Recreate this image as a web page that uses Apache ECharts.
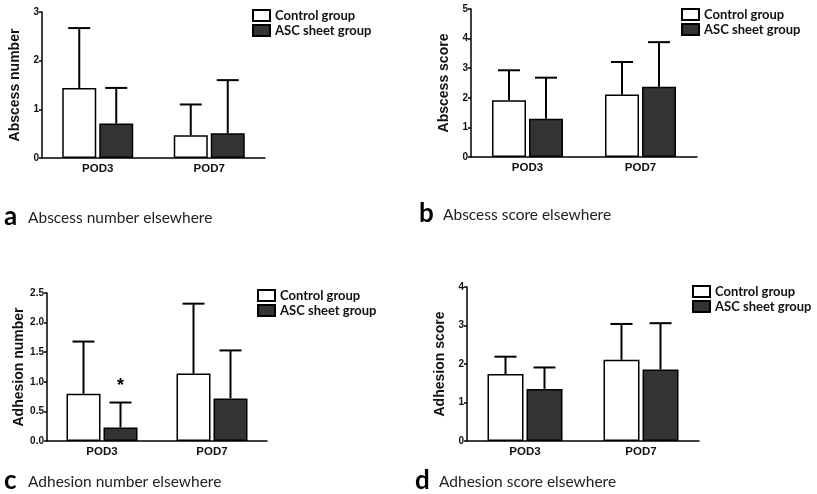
<!DOCTYPE html>
<html>
<head>
<meta charset="utf-8">
<script src="https://cdn.jsdelivr.net/npm/echarts@6/dist/echarts.min.js"></script>
<style>
  html, body { margin: 0; padding: 0; background: #fff; }
  #main { width: 817px; height: 494px; }
</style>
</head>
<body>
<div id="main"></div>
<script>
// data (mean and SD)
const categories = ['POD3', 'POD7'];
const groupNames = ['Control group', 'ASC sheet group'];

const abscessNumCtrl = [1.44, 0.47];
const abscessNumCtrlSD = [1.23, 0.63];
const abscessNumAsc = [0.71, 0.51];
const abscessNumAscSD = [0.73, 1.09];

const abscessScoreCtrl = [1.92, 2.11];
const abscessScoreCtrlSD = [1.01, 1.10];
const abscessScoreAsc = [1.29, 2.37];
const abscessScoreAscSD = [1.39, 1.51];

const adhesionNumCtrl = [0.80, 1.14];
const adhesionNumCtrlSD = [0.88, 1.18];
const adhesionNumAsc = [0.23, 0.72];
const adhesionNumAscSD = [0.42, 0.81];
const adhesionNumAscSig = ['*', ''];

const adhesionScoreCtrl = [1.74, 2.11];
const adhesionScoreCtrlSD = [0.45, 0.93];
const adhesionScoreAsc = [1.35, 1.86];
const adhesionScoreAscSD = [0.56, 1.20];

const yTitles = ['Abscess number', 'Abscess score', 'Adhesion number', 'Adhesion score'];
const yMax = [3, 5, 2.5, 4];
const yStep = [1, 1, 0.5, 1];
const captionLetters = ['a', 'b', 'c', 'd'];
const captionTexts = ['Abscess number elsewhere', 'Abscess score elsewhere',
  'Adhesion number elsewhere', 'Adhesion score elsewhere'];

const panels = [
  { ctrl: abscessNumCtrl, ctrlSD: abscessNumCtrlSD, asc: abscessNumAsc, ascSD: abscessNumAscSD, sig: ['', ''] },
  { ctrl: abscessScoreCtrl, ctrlSD: abscessScoreCtrlSD, asc: abscessScoreAsc, ascSD: abscessScoreAscSD, sig: ['', ''] },
  { ctrl: adhesionNumCtrl, ctrlSD: adhesionNumCtrlSD, asc: adhesionNumAsc, ascSD: adhesionNumAscSD, sig: adhesionNumAscSig },
  { ctrl: adhesionScoreCtrl, ctrlSD: adhesionScoreCtrlSD, asc: adhesionScoreAsc, ascSD: adhesionScoreAscSD, sig: ['', ''] }
];

// layout
const grids = [
  { left: 42, top: 12, width: 223, height: 146 },
  { left: 471, top: 9, width: 226, height: 148 },
  { left: 47, top: 293, width: 220, height: 148 },
  { left: 467, top: 287, width: 232, height: 154 }
];
const barW = [34, 34, 34, 36];
const barGapPx = 3;
const legendPos = [
  { left: 252, top: 9 }, { left: 681, top: 8 },
  { left: 257, top: 289 }, { left: 692, top: 285 }
];
const captionPos = [
  { x: 4, y: 204 }, { x: 419, y: 201 },
  { x: 4, y: 468 }, { x: 415, y: 468 }
];

const FONT = 'Arial, "Liberation Sans", sans-serif';
const CAP_FONT = 'Lato, "Open Sans", sans-serif';

const series = [];
const xAxis = [];
const yAxis = [];
const legends = [];
const graphics = [];

panels.forEach(function (p, i) {
  xAxis.push({
    type: 'category', gridIndex: i, data: categories,
    axisLine: { lineStyle: { color: '#000', width: 1.5 } },
    axisTick: { show: false },
    axisLabel: { color: '#111', fontFamily: FONT, fontWeight: 'bold', fontSize: 11.5, margin: 5 }
  });
  yAxis.push({
    type: 'value', gridIndex: i, min: 0, max: yMax[i], interval: yStep[i],
    name: yTitles[i], nameLocation: 'middle', nameGap: 20, nameRotate: 90,
    nameTextStyle: { color: '#111', fontFamily: FONT, fontWeight: 'bold', fontSize: 14 },
    splitLine: { show: false },
    axisLine: { show: true, lineStyle: { color: '#000', width: 1.5 } },
    axisTick: { show: true, length: 3, lineStyle: { color: '#000', width: 1.5 } },
    axisLabel: {
      color: '#111', fontFamily: FONT, fontWeight: 'bold', fontSize: 10, margin: 3,
      formatter: function (v) { return yStep[i] < 1 ? v.toFixed(1) : String(v); }
    }
  });
  legends.push({
    left: legendPos[i].left, top: legendPos[i].top, orient: 'vertical', padding: 0,
    icon: 'rect', itemWidth: 17, itemHeight: 11, itemGap: 2, selectedMode: false,
    data: groupNames,
    textStyle: { color: '#111', fontFamily: CAP_FONT, fontWeight: 'bold', fontSize: 13, padding: [0, 0, 0, 0] }
  });

  const groups = [
    { name: groupNames[0], vals: p.ctrl, sd: p.ctrlSD, fill: '#ffffff', sig: ['', ''], side: -1 },
    { name: groupNames[1], vals: p.asc, sd: p.ascSD, fill: '#333333', sig: p.sig, side: 1 }
  ];
  groups.forEach(function (g) {
    series.push({
      type: 'bar', name: g.name, xAxisIndex: i, yAxisIndex: i,
      data: g.vals, barWidth: barW[i], barGap: (barGapPx / barW[i] * 100) + '%',
      itemStyle: { color: g.fill, borderColor: '#000', borderWidth: 1.5 },
      z: 3
    });
    const offset = g.side * (barW[i] + barGapPx) / 2;
    series.push({
      type: 'custom', name: g.name + ' SD', xAxisIndex: i, yAxisIndex: i,
      data: g.vals.map(function (v, k) { return [k, v, v + g.sd[k], g.sig[k]]; }),
      z: 2,
      renderItem: function (params, api) {
        const base = api.coord([api.value(0), api.value(1)]);
        const top = api.coord([api.value(0), api.value(2)]);
        const x = base[0] + offset;
        const half = 11;
        const children = [
          { type: 'line', shape: { x1: x, y1: base[1], x2: x, y2: top[1] }, style: { stroke: '#000', lineWidth: 2 } },
          { type: 'line', shape: { x1: x - half, y1: top[1], x2: x + half, y2: top[1] }, style: { stroke: '#000', lineWidth: 2 } }
        ];
        const s = g.sig[params.dataIndex];
        if (s) {
          children.push({
            type: 'text', x: x, y: top[1] - 16,
            style: { text: s, fill: '#000', font: 'bold 18px ' + FONT, align: 'center', verticalAlign: 'middle' }
          });
        }
        return { type: 'group', children: children };
      }
    });
  });

  graphics.push({
    type: 'text', left: captionPos[i].x, top: captionPos[i].y,
    style: { text: captionLetters[i], fill: '#000', font: 'bold 26px ' + CAP_FONT }
  });
  graphics.push({
    type: 'text', left: captionPos[i].x + 24, top: captionPos[i].y + 6,
    style: { text: captionTexts[i], fill: '#222', font: '15.5px ' + CAP_FONT }
  });
});

const chart = echarts.init(document.getElementById('main'));
chart.setOption({
  animation: false,
  backgroundColor: '#fff',
  grid: grids,
  xAxis: xAxis,
  yAxis: yAxis,
  legend: legends,
  series: series,
  graphic: graphics
});
</script>
</body>
</html>
